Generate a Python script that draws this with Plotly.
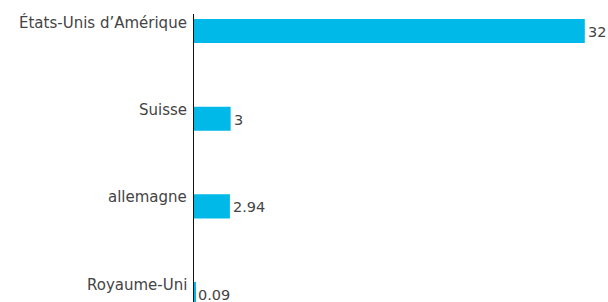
import plotly.graph_objects as go

categories = ["États-Unis d’Amérique", "Suisse", "allemagne", "Royaume-Uni"]
values = [32, 3, 2.94, 0.09]
value_labels = ["32", "3", "2.94", "0.09"]

pos = list(range(len(categories)))
FONT = "'DejaVu Sans', sans-serif"
TXT = "#444444"

fig = go.Figure(go.Bar(
    x=values, y=pos, orientation="h",
    marker=dict(color="#00b9e8", line=dict(width=0)),
    width=0.275, hoverinfo="skip",
))

ann = []
for p, c, v, t in zip(pos, categories, values, value_labels):
    ann.append(dict(x=0, y=p, xref="x", yref="y", text=c, showarrow=False,
                    xanchor="right", yanchor="middle", xshift=-5, yshift=9,
                    font=dict(family=FONT, size=15, color=TXT)))
    ann.append(dict(x=v, y=p, xref="x", yref="y", text=t, showarrow=False,
                    xanchor="left", yanchor="middle", xshift=1, yshift=-1,
                    font=dict(family=FONT, size=14.5, color=TXT)))

fig.update_layout(
    width=608, height=302,
    margin=dict(l=194, r=0, t=14, b=0),
    paper_bgcolor="white", plot_bgcolor="white",
    showlegend=False,
    xaxis=dict(range=[0, 33.9], visible=False, showgrid=False, zeroline=False),
    yaxis=dict(range=[3.09, -0.194], showgrid=False, zeroline=False,
               showticklabels=False, ticks="", showline=True,
               linecolor="#111", linewidth=1),
    annotations=ann,
)

fig.write_html("out.html", post_script="document.body.style.margin='0';",
               config={"displayModeBar": False})
